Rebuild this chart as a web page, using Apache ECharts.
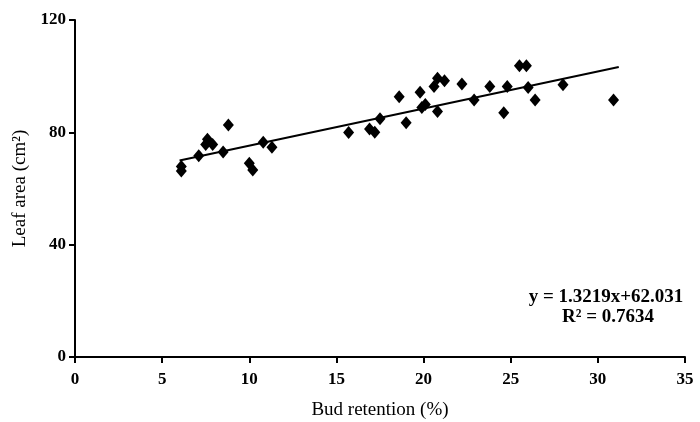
<!DOCTYPE html>
<html>
<head>
<meta charset="utf-8">
<script src="https://cdn.jsdelivr.net/npm/echarts@6/dist/echarts.min.js"></script>
<style>
  html, body { margin: 0; padding: 0; background: #fff; }
  #chart { width: 700px; height: 422px; }
</style>
</head>
<body>
<div id="chart"></div>
<script>
// bud retention (%) and leaf area (cm2)
const retention = [6.1, 6.1, 7.1, 7.6, 7.5, 7.9, 8.8, 8.5, 10.0, 10.2, 10.8, 11.3,
  15.7, 16.9, 17.2, 17.5, 18.6, 19.0, 19.8, 19.9, 20.1, 20.6, 20.8, 21.2, 20.8,
  22.2, 22.9, 23.8, 24.8, 24.6, 25.5, 25.9, 26.0, 26.4, 28.0, 30.9]
const leafArea = [67.8, 66.2, 71.7, 77.5, 75.7, 75.7, 82.6, 73.0, 69.0, 66.6, 76.5, 74.7,
  79.9, 81.2, 80.0, 84.8, 92.7, 83.4, 94.3, 88.8, 89.9, 96.3, 99.3, 98.4, 87.4,
  97.2, 91.5, 96.3, 96.3, 87.0, 103.7, 103.7, 96.0, 91.5, 96.9, 91.5]

// fitted line from the figure
const slope = 1.3219
const intercept = 62.031
const rSquared = 0.7634
const fitRange = [6.0, 31.2]

const xTicks = [0, 35, 5]   // min, max, interval
const yTicks = [0, 120, 40]

const font = 'Liberation Serif'

const points = retention.map((x, i) => [x, leafArea[i]])
const fitLine = fitRange.map(x => [x, slope * x + intercept])

const chart = echarts.init(document.getElementById('chart'))

const eqStyle = { fontFamily: font, fontSize: 19, fontWeight: 'bold', fill: '#000', align: 'center', verticalAlign: 'middle' }

const option = {
  animation: false,
  grid: { left: 75, right: 15, top: 20, bottom: 65, outerBoundsMode: 'none' },
  xAxis: {
    type: 'value',
    min: xTicks[0], max: xTicks[1], interval: xTicks[2],
    name: 'Bud retention (%)',
    nameLocation: 'middle',
    nameGap: 44,
    nameTextStyle: { fontFamily: font, fontSize: 19, color: '#000' },
    axisLine: { lineStyle: { color: '#000', width: 2 } },
    axisTick: { length: 6, lineStyle: { color: '#000', width: 2 } },
    axisLabel: { fontFamily: font, fontSize: 17, fontWeight: 'bold', color: '#000', margin: 14 },
    splitLine: { show: false }
  },
  yAxis: {
    type: 'value',
    min: yTicks[0], max: yTicks[1], interval: yTicks[2],
    name: 'Leaf area (cm²)',
    nameLocation: 'middle',
    nameGap: 37,
    nameTextStyle: { fontFamily: font, fontSize: 19, color: '#000' },
    axisLine: { show: true, lineStyle: { color: '#000', width: 2 } },
    axisTick: { show: true, length: 6, lineStyle: { color: '#000', width: 2 } },
    axisLabel: { fontFamily: font, fontSize: 17, fontWeight: 'bold', color: '#000', margin: 9 },
    splitLine: { show: false }
  },
  series: [
    {
      type: 'scatter',
      data: points,
      symbol: 'diamond',
      symbolSize: [11, 13],
      itemStyle: { color: '#000', opacity: 1 }
    },
    {
      type: 'line',
      data: fitLine,
      showSymbol: false,
      lineStyle: { color: '#000', width: 2 },
      z: 1
    }
  ],
  graphic: [
    {
      type: 'text', x: 606, y: 297,
      style: Object.assign({ text: 'y = ' + slope + 'x+' + intercept.toFixed(3) }, eqStyle)
    },
    {
      type: 'text', x: 608, y: 317,
      style: Object.assign({ text: 'R² = ' + rSquared }, eqStyle)
    }
  ]
}

chart.setOption(option)
</script>
</body>
</html>
